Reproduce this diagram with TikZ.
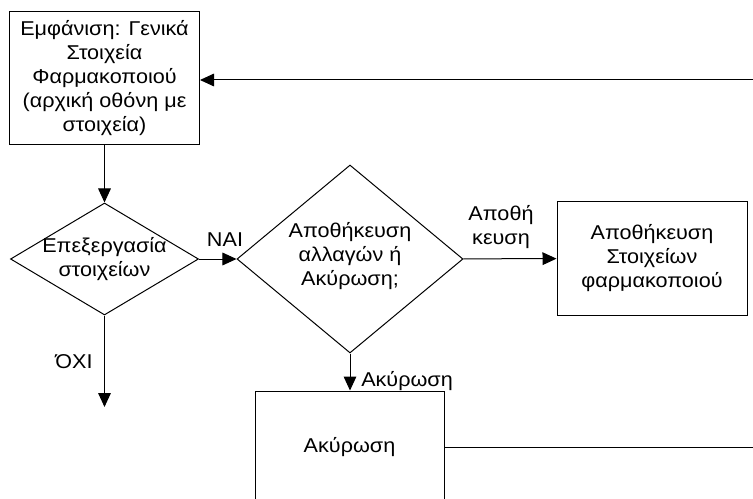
\documentclass[tikz,border=0pt]{standalone}
\usepackage{fontspec}
\setmainfont[FakeStretch=1.08]{Liberation Sans}
\usepackage{tikz}
\usetikzlibrary{shapes.geometric, arrows.meta, positioning, calc}

\begin{document}
\begin{tikzpicture}[x=0.75pt, y=-0.75pt, font=\fontsize{15}{18}\selectfont,
    box/.style={draw, line width=0.75pt, inner sep=0pt},
    decision/.style={draw, diamond, line width=0.75pt, inner sep=0pt},
    txt/.style={align=center, inner sep=0pt},
    link/.style={line width=0.75pt, -{Triangle[length=10.5pt, width=9.5pt]}}]
    \clip (0,0) rectangle (753,499);

    % Nodes
    \node (home) [box, minimum width=142.5pt, minimum height=99.75pt] at (104.5,78.5) {};
    \node (hometext) [txt] at (home) {Εμφάνιση: Γενικά\\Στοιχεία\\Φαρμακοποιού\\(αρχική οθόνη με\\στοιχεία)};
    \node (edit) [decision, minimum width=141pt, minimum height=84pt] at (104.5,259) {};
    \node (edittext) [txt] at (edit) {Επεξεργασία\\στοιχείων};
    \node (decide) [decision, minimum width=169.5pt, minimum height=141pt] at (350,259) {};
    \node (decidetext) [txt] at ($(decide)+(0,-3)$) {Αποθήκευση\\αλλαγών ή\\Ακύρωση;};
    \node (save) [box, minimum width=142.5pt, minimum height=84.75pt] at (652,258.5) {};
    \node (savetext) [txt] at (save) {Αποθήκευση\\Στοιχείων\\φαρμακοποιού};
    \node (cancel) [box, minimum width=141.75pt, minimum height=84pt] at (349.5,447) {};
    \node (canceltext) [txt] at (cancel) {Ακύρωση};

    % Free ends
    \coordinate (backin) at (753,80);
    \coordinate (cancelout) at (753,447);
    \coordinate (no) at (104.5,407);

    % Paths
    \draw[link] (backin) -- (backin -| home.east);
    \draw[link] (home) -- (edit);
    \draw[link] (edit) -- (decide);
    \draw[link] (edit) -- (no);
    \draw[link] (decide) -- (save);
    \draw[link] (decide.south) -- (decide.south |- cancel.north);
    \draw[line width=0.75pt] (cancel) -- (cancelout);

    % Labels
    \node (yes) [txt] at (225,240) {NAI};
    \node (nolbl) [txt] at (74,362) {ΌΧΙ};
    \node (savelbl) [txt] at (501,227) {Αποθή\\κευση};
    \node (cancellbl) [txt, anchor=base west] at (361,386) {Ακύρωση};
\end{tikzpicture}
\end{document}
